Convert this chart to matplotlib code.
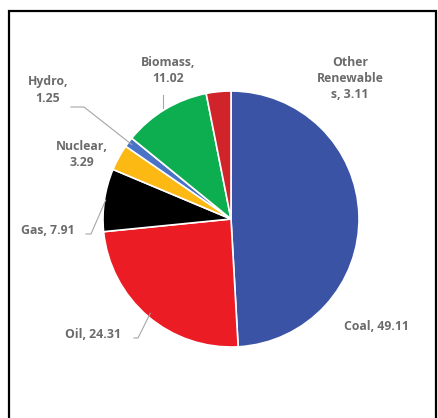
import numpy as np
import matplotlib
matplotlib.use("Agg")
import matplotlib.pyplot as plt
from matplotlib.patches import Rectangle

# Energy mix shares (%)
sources = ["Coal", "Oil", "Gas", "Nuclear", "Hydro", "Biomass", "Other Renewables"]
shares = [49.11, 24.31, 7.91, 3.29, 1.25, 11.02, 3.11]
colors = ["#3A53A4", "#EC1C24", "#000000", "#FDB913", "#4A72C6", "#0DAE4F", "#D1232A"]
label_text = ["Coal, 49.11", "Oil, 24.31", "Gas, 7.91", "Nuclear,\n3.29", "Hydro,\n1.25",
              "Biomass,\n11.02", "Other\nRenewable\ns, 3.11"]

W, H = 438, 418
fig = plt.figure(figsize=(W / 100, H / 100), dpi=100)
ax = fig.add_axes([0, 0, 1, 1])

cx, cy, r = 231, H - 219, 128
wedges, _ = ax.pie(shares, colors=colors, startangle=90, counterclock=False,
                   center=(cx, cy), radius=r, frame=True,
                   wedgeprops=dict(edgecolor="white", linewidth=1.2))
ax.set_xlim(0, W)
ax.set_ylim(0, H)
ax.set_aspect("equal")
ax.axis("off")

txt = dict(fontsize=8.8, fontweight="bold", color="#6b6b6b",
           family=["Open Sans", "DejaVu Sans"], ha="center", va="center",
           linespacing=1.3)
line = dict(color="#a6a6a6", lw=0.8)


def edge_point(w, scale=1.0):
    ang = np.deg2rad((w.theta1 + w.theta2) / 2)
    return cx + r * scale * np.cos(ang), cy + r * scale * np.sin(ang)


# label positions (pixel space, y measured from bottom)
label_pos = {
    0: (376, H - 327),
    1: (93, H - 334),
    2: (48, H - 231),
    3: (82, H - 154),
    4: (48, H - 90),
    5: (168, H - 70),
    6: (350, H - 79),
}
for i, (x, y) in label_pos.items():
    ax.text(x, y, label_text[i], **txt)

# leader lines
ex, ey = edge_point(wedges[1], 0.97)
ax.plot([134, 138, ex], [H - 338, H - 338, ey], **line)
ex, ey = edge_point(wedges[2], 0.99)
ax.plot([86, 91, ex], [H - 234, H - 234, ey], **line)
ex, ey = edge_point(wedges[4], 0.97)
ax.plot([71, 84, ex], [H - 107, H - 107, ey], **line)
ex, ey = edge_point(wedges[5], 1.0)
ax.plot([ex - 2, ex - 2], [H - 95, ey + 1], **line)

# outer frame
fig.patches.append(Rectangle((9 / W, -0.05), (436 - 9) / W, 1.05 - 11 / H,
                             transform=fig.transFigure, fill=False,
                             edgecolor="black", linewidth=1.6))

fig.savefig("out.png", dpi=100, facecolor="white")
